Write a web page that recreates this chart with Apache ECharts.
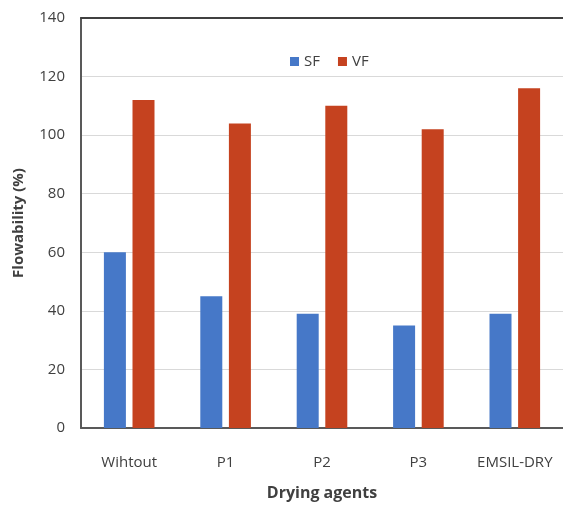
<!DOCTYPE html>
<html>
<head>
<meta charset="utf-8">
<script src="https://cdn.jsdelivr.net/npm/echarts@6/dist/echarts.min.js"></script>
<style>html,body{margin:0;padding:0;background:#fff;}#c{width:563px;height:508px;}</style>
</head>
<body>
<div id="c"></div>
<script>
const categories = ['Wihtout', 'P1', 'P2', 'P3', 'EMSIL-DRY'];
const sfValues = [60, 45, 39, 35, 39];
const vfValues = [112, 104, 110, 102, 116];
const yTicks = [0, 20, 40, 60, 80, 100, 120, 140];

const chart = echarts.init(document.getElementById('c'));
const font = "'Open Sans', 'Liberation Sans', sans-serif";
chart.setOption({
  animation: false,
  backgroundColor: '#fff',
  textStyle: { fontFamily: font },
  legend: {
    data: ['SF', 'VF'],
    left: 286, top: 52,
    itemWidth: 9, itemHeight: 9, itemGap: 18,
    icon: 'rect',
    backgroundColor: '#fff',
    padding: [2, 4],
    textStyle: { fontSize: 15, color: '#404040', fontFamily: font }
  },
  grid: { left: 81, right: 0, top: 18, bottom: 80 },
  xAxis: [{
    type: 'category',
    data: categories,
    axisLine: { lineStyle: { color: '#595959', width: 2 } },
    axisTick: { show: false },
    axisLabel: { fontSize: 15, color: '#404040', margin: 27, interval: 0, fontFamily: font },
    name: 'Drying agents',
    nameLocation: 'middle',
    nameGap: 57,
    nameTextStyle: { fontSize: 16, fontWeight: 'bold', color: '#404040', fontFamily: font }
  }, {
    type: 'category',
    data: categories,
    position: 'top',
    axisLine: { lineStyle: { color: '#404040', width: 2 } },
    axisTick: { show: false },
    axisLabel: { show: false }
  }],
  yAxis: {
    type: 'value',
    min: yTicks[0], max: yTicks[yTicks.length - 1], interval: 20,
    axisLine: { show: true, lineStyle: { color: '#595959', width: 2 } },
    axisTick: { show: false },
    splitLine: { lineStyle: { color: '#d9d9d9', width: 1 } },
    axisLabel: { fontSize: 15, color: '#404040', margin: 16, fontFamily: font },
    name: 'Flowability (%)',
    nameLocation: 'middle',
    nameGap: 55,
    nameTextStyle: { fontSize: 15, fontWeight: 'bold', color: '#404040', fontFamily: font, padding: [0, 0, 0, 0] }
  },
  series: [{
    name: 'SF', type: 'bar', data: sfValues, barWidth: 22, barGap: '30%',
    itemStyle: { color: '#4678c8' }
  }, {
    name: 'VF', type: 'bar', data: vfValues, barWidth: 22, barGap: '30%',
    itemStyle: { color: '#c5421f' }
  }]
});
</script>
</body>
</html>
